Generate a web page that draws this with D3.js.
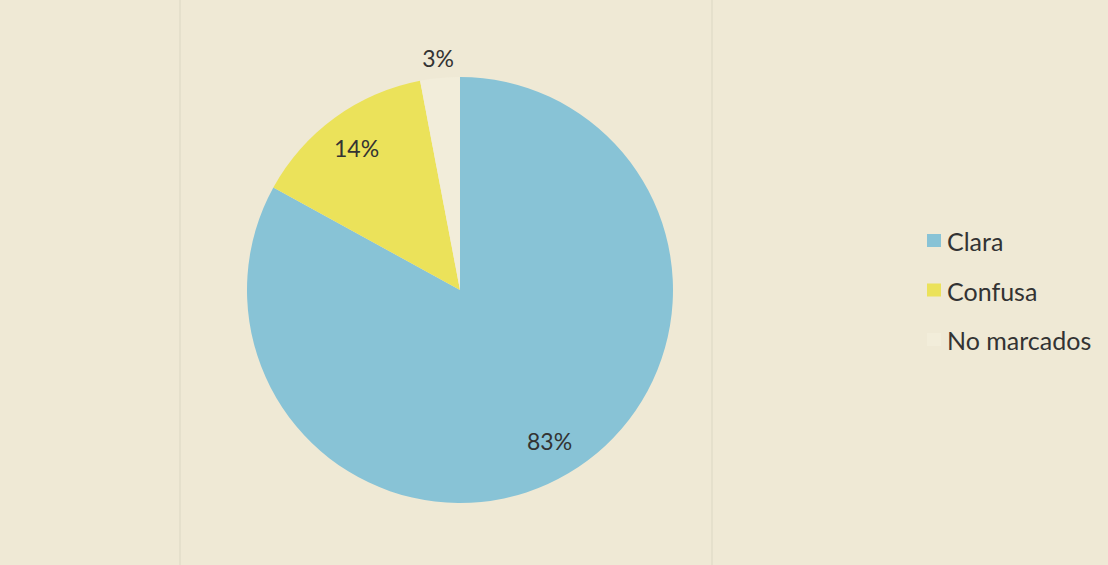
<!DOCTYPE html>
<html>
<head>
<meta charset="utf-8">
<script src="https://cdn.jsdelivr.net/npm/d3@7"></script>
<style>
  html, body { margin: 0; padding: 0; background: #efe9d5; }
  svg { display: block; }
</style>
</head>
<body>
<svg id="chart"></svg>
<script>
const categories = ["Clara", "Confusa", "No marcados"];
const values = [83, 14, 3];
const labels = ["83%", "14%", "3%"];

const width = 1108;
const height = 565;
const cx = 460;
const cy = 290;
const radius = 213;

const color = d3.scaleOrdinal()
  .domain(categories)
  .range(["#88c3d6", "#ebe25a", "#f2edda"]);

const svg = d3.select("#chart")
  .attr("width", width)
  .attr("height", height);

// paper background
svg.append("rect")
  .attr("width", width)
  .attr("height", height)
  .attr("fill", "#efe9d5");

// faint show-through lines from the scan
[180, 712].forEach(x => {
  svg.append("line")
    .attr("x1", x).attr("x2", x)
    .attr("y1", 0).attr("y2", height)
    .attr("stroke", "#e2dcc8")
    .attr("stroke-width", 1.5);
});

const pie = d3.pie()
  .sort(null)
  .value(d => d.value);

const data = categories.map((c, i) => ({ name: c, value: values[i], label: labels[i] }));
const arcs = pie(data);

const arc = d3.arc().innerRadius(0).outerRadius(radius);
const labelArc = d3.arc().innerRadius(176).outerRadius(176);
const outerLabelArc = d3.arc().innerRadius(233).outerRadius(233);

const g = svg.append("g")
  .attr("transform", `translate(${cx},${cy})`);

// Slices
g.selectAll("path")
  .data(arcs)
  .enter()
  .append("path")
  .attr("d", arc)
  .attr("fill", d => color(d.data.name));

// Labels
g.selectAll("text")
  .data(arcs)
  .enter()
  .append("text")
  .attr("transform", d => {
    const pos = d.data.value < 5 ? outerLabelArc.centroid(d) : labelArc.centroid(d);
    return `translate(${pos})`;
  })
  .attr("text-anchor", "middle")
  .attr("dominant-baseline", "central")
  .attr("font-family", "Lato, 'Open Sans', sans-serif")
  .attr("font-size", "23px")
  .attr("fill", "#333")
  .text(d => d.data.label);

// Legend
const legend = svg.append("g")
  .attr("transform", "translate(927,241)");

const item = legend.selectAll("g")
  .data(categories)
  .enter()
  .append("g")
  .attr("transform", (d, i) => `translate(0,${i * 49.5})`);

item.append("rect")
  .attr("x", 0)
  .attr("y", -7)
  .attr("width", 14)
  .attr("height", 13)
  .attr("fill", d => color(d));

item.append("text")
  .attr("x", 20)
  .attr("y", 0)
  .attr("dominant-baseline", "central")
  .attr("font-family", "Lato, 'Open Sans', sans-serif")
  .attr("font-size", "25px")
  .attr("fill", "#333")
  .text(d => d);
</script>
</body>
</html>
